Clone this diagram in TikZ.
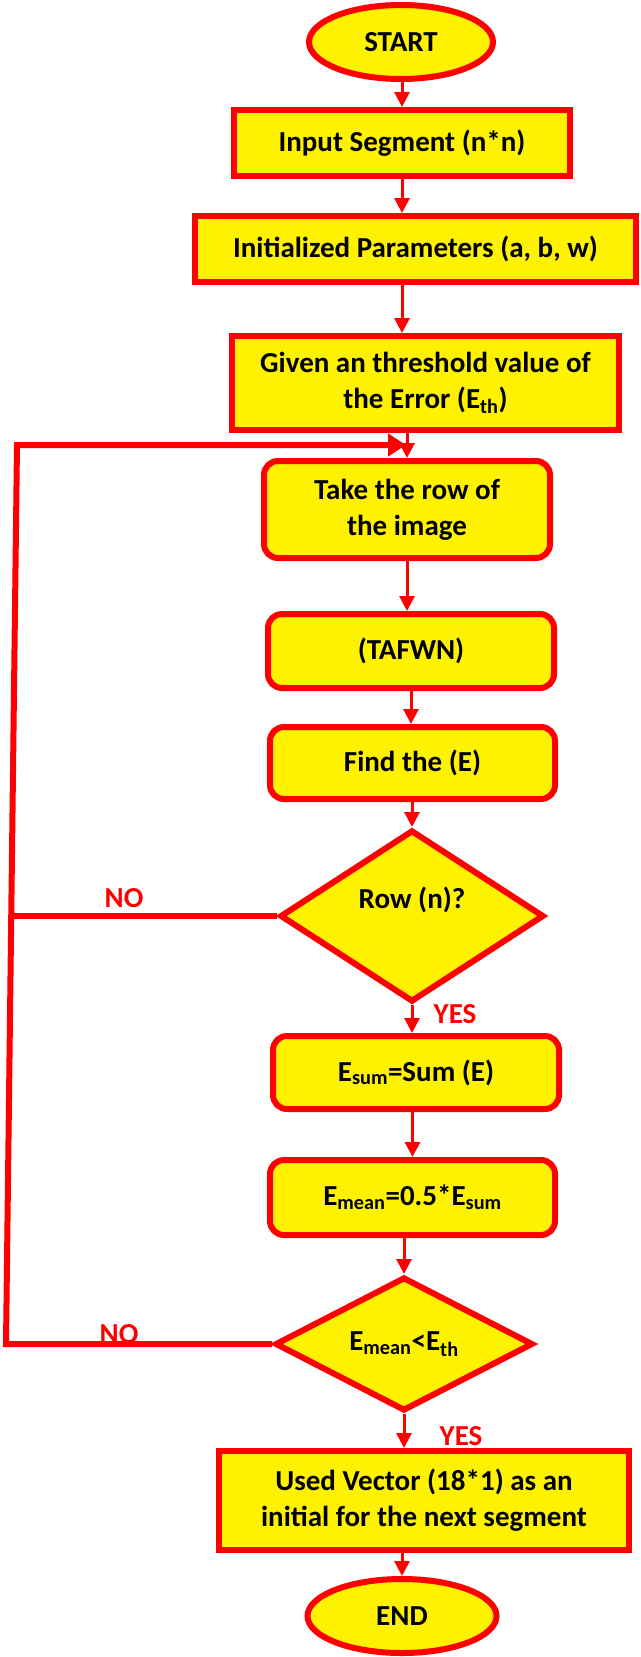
\documentclass[tikz,border=0pt]{standalone}
\usepackage{fontspec}
\setmainfont{Carlito}
\usetikzlibrary{shapes.geometric,arrows.meta}

\begin{document}
\begin{tikzpicture}[x=1pt, y=-1pt,
    every node/.style={font=\fontsize{29}{36}\selectfont\bfseries, align=center, inner sep=0pt},
    box/.style={rectangle, draw=red, fill=yellow, line width=6pt},
    rbox/.style={box, rounded corners=14pt},
    term/.style={ellipse, draw=red, fill=yellow, line width=6pt},
    decide/.style={diamond, draw=red, fill=yellow, line width=6pt},
    flow/.style={red, line width=3pt, -{Triangle[length=15pt, width=15pt]}},
    back/.style={red, line width=6pt},
    answer/.style={text=red}]
    \useasboundingbox (0,0) rectangle (640,1657);

    % main column
    \node[term, minimum width=184pt, minimum height=74pt] (start) at (401,42) {START};
    \node[box, minimum width=336pt, minimum height=66pt] (in1) at (402,143) {Input Segment (n*n)};
    \node[box, minimum width=441pt, minimum height=66pt] (init) at (415.5,249) {Initialized Parameters (a, b, w)};
    \node[box, minimum width=387pt, minimum height=94pt] (thr) at (425.5,383) {Given an threshold value of\\the Error (E\textsubscript{th})};
    \node[rbox, minimum width=286pt, minimum height=97pt] (take) at (407,509.5) {Take the row of\\the image};
    \node[rbox, minimum width=286pt, minimum height=74pt] (tafwn) at (411,651) {(TAFWN)};
    \node[rbox, minimum width=285pt, minimum height=72pt] (find) at (412.5,763) {Find the (E)};
    \node[decide, minimum width=264pt, minimum height=172pt] (d1) at (412,916) {\raisebox{8pt}[0pt][0pt]{Row (n)?}};
    \node[rbox, minimum width=286pt, minimum height=73pt] (esum) at (416,1072.5) {E\textsubscript{sum}=Sum (E)};
    \node[rbox, minimum width=285pt, minimum height=75pt] (emean) at (412.5,1197.5) {E\textsubscript{mean}=0.5*E\textsubscript{sum}};
    \node[decide, minimum width=258pt, minimum height=132pt] (d2) at (404,1344) {E\textsubscript{mean}<E\textsubscript{th}};
    \node[box, minimum width=410pt, minimum height=99pt] (used) at (424,1500.5) {Used Vector (18*1) as an\\initial for the next segment};
    \node[term, minimum width=189pt, minimum height=74pt] (end) at (402,1616) {END};

    % answers
    \node[answer] (no1) at (124,898) {NO};
    \node[answer] (yes1) at (455,1014) {YES};
    \node[answer] (no2) at (119,1334) {NO};
    \node[answer] (yes2) at (461,1436) {YES};

    % return path on the left
    \coordinate (looptl) at (17,445);
    \coordinate (loopmid) at (11,916);
    \coordinate (loopbl) at (6,1344);
    \coordinate (loopin) at (406,445);

    \draw[flow] (start.south -| in1.north) -- (in1.north);
    \draw[flow] (in1.south) -- (in1.south |- init.north);
    \draw[flow] (in1.south |- init.south) -- (in1.south |- thr.north);
    \draw[flow] (take.north |- thr.south) -- (take.north);
    \draw[flow] (take.south) -- (take.south |- tafwn.north);
    \draw[flow] (tafwn.south) -- (tafwn.south |- find.north);
    \draw[flow] (d1.north |- find.south) -- (d1.north);
    \draw[flow] (d1.south) -- (d1.south |- esum.north);
    \draw[flow] (emean.north |- esum.south) -- (emean.north);
    \draw[flow] (d2.north |- emean.south) -- (d2.north);
    \draw[flow] (d2.south) -- (d2.south |- used.north);
    \draw[flow] (end.north |- used.south) -- (end.north);

    \draw[back] (d1.west) -- (loopmid);
    \draw[back, -{Triangle[length=18pt, width=22pt]}] (d2.west) -- (loopbl) -- (looptl) -- (loopin);
\end{tikzpicture}
\end{document}
